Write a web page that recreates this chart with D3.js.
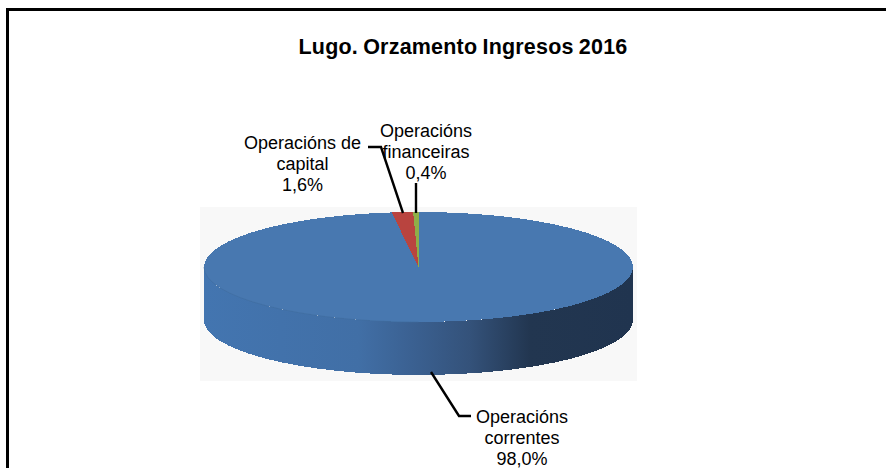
<!DOCTYPE html>
<html><head><meta charset="utf-8">
<script src="https://cdn.jsdelivr.net/npm/d3@7"></script>
<style>html,body{margin:0;padding:0;background:#fff}svg{display:block}text{font-family:"Liberation Sans",Arial,sans-serif;fill:#000}</style>
</head><body><div id="c"></div>
<script>
const categories = ["Operacións correntes", "Operacións de capital", "Operacións financeiras"];
const values = [98.0, 1.6, 0.4];
const valueLabels = ["98,0%", "1,6%", "0,4%"];
const colors = ["#4878b0", "#b9443f", "#8fae48"];
const titleText = "Lugo. Orzamento Ingresos 2016";

const W = 886, H = 468;
const svg = d3.select("#c").append("svg").attr("width", W).attr("height", H);

// frame: only top and left edges are visible in the crop
svg.append("path").attr("d", `M7.5 ${H}V9.5H${W}`).attr("fill", "none").attr("stroke", "#000").attr("stroke-width", 3);

svg.append("text").attr("x", 463).attr("y", 54).attr("text-anchor", "middle")
  .attr("font-size", 21.5).attr("font-weight", "bold").attr("letter-spacing", 0.2).attr("word-spacing", -1).text(titleText);

// plot backdrop
svg.append("rect").attr("x", 200).attr("y", 207).attr("width", 437).attr("height", 174).attr("fill", "#f8f8f8");

const cx = 418.5, cy = 267, rx = 214.5, ry = 55, depth = 53;

const defs = svg.append("defs");
const grad = defs.append("linearGradient").attr("id", "side").attr("gradientUnits", "userSpaceOnUse")
  .attr("x1", cx - rx).attr("x2", cx + rx).attr("y1", 0).attr("y2", 0);
[[0, "#4375b0"], [0.36, "#416fa6"], [0.5, "#3a5f8f"], [0.62, "#34527a"], [0.76, "#223650"], [1, "#20344f"]]
  .forEach(([o, c]) => grad.append("stop").attr("offset", o).attr("stop-color", c));

// side wall
svg.append("path")
  .attr("d", `M${cx - rx} ${cy}A${rx} ${ry} 0 0 0 ${cx + rx} ${cy}V${cy + depth}A${rx} ${ry} 0 0 1 ${cx - rx} ${cy + depth}Z`)
  .attr("fill", "url(#side)").attr("shape-rendering", "crispEdges");

// top face, from the data
const pie = d3.pie().sort(null).value(d => d).startAngle(0).endAngle(2 * Math.PI);
const arc = d3.arc().innerRadius(0).outerRadius(rx);
svg.append("g").attr("transform", `translate(${cx},${cy}) scale(1,${ry / rx})`)
  .selectAll("path").data(pie(values)).join("path")
  .attr("d", arc).attr("fill", (d, i) => colors[i]).attr("shape-rendering", "crispEdges");

// faint seam between top and wall
svg.append("path").attr("d", `M${cx - rx} ${cy}A${rx} ${ry} 0 0 0 ${cx} ${cy + ry}`)
  .attr("fill", "none").attr("stroke", "#3f6c9f").attr("stroke-width", 1).attr("stroke-opacity", 0.6);

// leader lines
const leaders = [
  [[431, 372], [459, 416], [471, 416]],
  [[368, 147], [381, 147], [403, 213]],
  [[416, 183], [416, 213]]
];
const line = d3.line();
svg.append("g").selectAll("path").data(leaders).join("path")
  .attr("d", line).attr("fill", "none").attr("stroke", "#000").attr("stroke-width", 2.4);

// labels
const labelLines = [
  ["Operacións", "correntes", valueLabels[0]],
  ["Operacións de", "capital", valueLabels[1]],
  ["Operacións", "financeiras", valueLabels[2]]
];
const labelPos = [[522, 423], [302.5, 149], [426, 137]];
const gl = svg.append("g").attr("font-size", 18);
labelLines.forEach((ls, i) => {
  const t = gl.append("text").attr("text-anchor", "middle");
  ls.forEach((s, j) => t.append("tspan").attr("x", labelPos[i][0]).attr("y", labelPos[i][1] + j * 20.8).text(s));
});
</script></body></html>
